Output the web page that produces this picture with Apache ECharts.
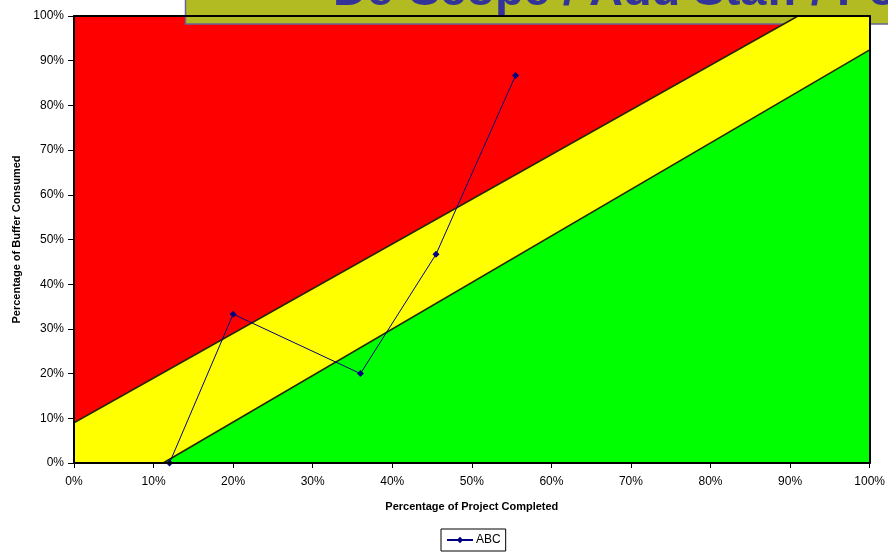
<!DOCTYPE html>
<html>
<head>
<meta charset="utf-8">
<script src="https://cdn.jsdelivr.net/npm/echarts@6/dist/echarts.min.js"></script>
<style>
  html, body { margin: 0; padding: 0; background: #fff; }
  #chart { width: 888px; height: 553px; }
</style>
</head>
<body>
<div id="chart"></div>
<script>
// project progress (% complete) vs buffer consumed (%)
const projectDone = [12, 20, 36, 45.5, 55.5];
const bufferUsed = [0, 33.3, 20, 46.7, 86.7];

// zone boundaries: above upper = red, between = yellow, below lower = green
const upperEdge = [[0, 9], [91, 100], [100, 100]];
const lowerEdge = [[11.2, 0], [100, 92.4]];

const xTicks = [0, 10, 20, 30, 40, 50, 60, 70, 80, 90, 100];
const titleText = 'De-Scope / Add Staff / Postpone';

const font = 'Arial, "Liberation Sans", sans-serif';
const chart = echarts.init(document.getElementById('chart'));

const zone = (data, fill, z) => ({
  type: 'line',
  data,
  symbol: 'none',
  silent: true,
  z,
  lineStyle: { color: '#262600', width: 1.5 },
  areaStyle: { color: fill, opacity: 1 },
  legendHoverLink: false,
});

// plain frame line for the top / right edges of the plot
const frameAxis = (position) => ({
  type: 'value',
  position,
  min: 0,
  max: 100,
  z: 10,
  axisLine: { show: true, onZero: false, lineStyle: { color: '#000', width: 2 } },
  axisTick: { show: false },
  axisLabel: { show: false },
  splitLine: { show: false },
});

chart.setOption({
  animation: false,
  grid: {
    left: 74, right: 15, top: 16, bottom: 90,
    show: true,
    backgroundColor: '#ff0000',
    borderWidth: 0,
  },
  xAxis: [{
    type: 'value',
    min: xTicks[0],
    max: xTicks[xTicks.length - 1],
    interval: 10,
    z: 10,
    name: 'Percentage of Project Completed',
    nameLocation: 'middle',
    nameGap: 38,
    nameTextStyle: { fontFamily: font, fontWeight: 'bold', fontSize: 11, color: '#000' },
    axisLine: { onZero: false, lineStyle: { color: '#000', width: 2 } },
    axisTick: { length: 5, lineStyle: { color: '#000' } },
    axisLabel: { formatter: '{value}%', fontFamily: font, fontSize: 12, color: '#000', margin: 13 },
    splitLine: { show: false },
  }, frameAxis('top')],
  yAxis: [{
    type: 'value',
    min: 0,
    max: 100,
    interval: 10,
    z: 10,
    name: 'Percentage of Buffer Consumed',
    nameLocation: 'middle',
    nameGap: 52,
    nameTextStyle: { fontFamily: font, fontWeight: 'bold', fontSize: 11, color: '#000' },
    axisLine: { show: true, onZero: false, lineStyle: { color: '#000', width: 2 } },
    axisTick: { show: true, length: 6, lineStyle: { color: '#000' } },
    axisLabel: { formatter: '{value}%', fontFamily: font, fontSize: 12, color: '#000', margin: 10 },
    splitLine: { show: false },
  }, frameAxis('right')],
  legend: {
    data: ['ABC'],
    left: 441,
    top: 529,
    padding: [5, 5, 5, 5],
    borderColor: '#000',
    borderWidth: 1,
    itemWidth: 26,
    itemHeight: 8,
    itemGap: 4,
    textStyle: { fontFamily: font, fontSize: 12, color: '#000', padding: [0, 0, 0, -2] },
  },
  series: [
    zone(upperEdge, '#ffff00', 1),
    zone(lowerEdge, '#00ff00', 2),
    {
      name: 'ABC',
      type: 'line',
      z: 5,
      data: projectDone.map((x, i) => [x, bufferUsed[i]]),
      symbol: 'diamond',
      symbolSize: 7,
      itemStyle: { color: '#000080' },
      lineStyle: { color: '#000080', width: 1 },
    },
  ],
  graphic: [
    {
      type: 'group',
      z: 100,
      children: [
        {
          type: 'rect',
          shape: { x: 185.5, y: -20, width: 720, height: 44 },
          style: { fill: '#b2bc22', stroke: '#666699', lineWidth: 1.5 },
        },
        {
          type: 'text',
          x: 333,
          y: 16,
          style: {
            text: titleText,
            fill: '#333399',
            font: 'bold 47px Arial, "Liberation Sans", sans-serif',
            verticalAlign: 'bottom',
          },
        },
      ],
    },
  ],
});
</script>
</body>
</html>
